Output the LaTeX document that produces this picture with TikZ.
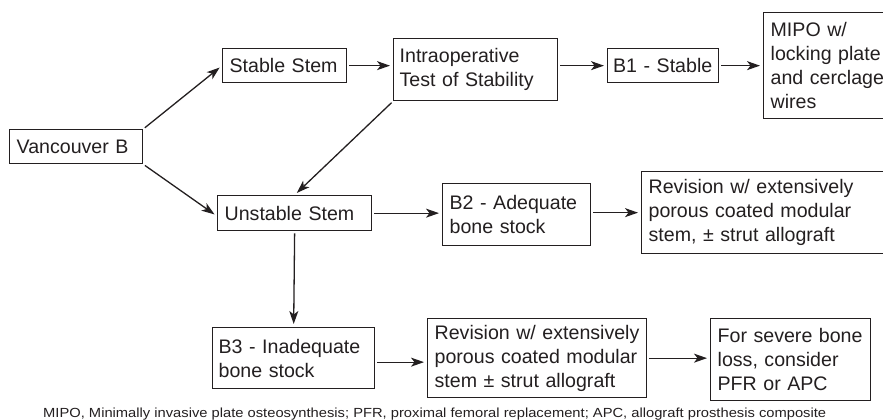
\documentclass[tikz,border=0pt]{standalone}
\usepackage{fontspec}
\setmainfont{Liberation Sans}
\usepackage{graphicx}
\usetikzlibrary{arrows.meta}
\definecolor{ink}{HTML}{231F20}
\hyphenpenalty=10000
\begin{document}
\begin{tikzpicture}[x=1pt,y=-1pt,
  box/.style={draw=ink, line width=1.3pt, anchor=north west, align=left,
    inner xsep=7pt, inner ysep=0pt, text=ink,
    font=\fontsize{19.6}{24}\selectfont},
  arr/.style={-{Stealth[length=13pt,width=9pt,inset=3.5pt]}, line width=1.3pt,
    draw=ink, shorten <=2pt, shorten >=3pt}]
\useasboundingbox (0,0) rectangle (883,420);
\clip (0,0) rectangle (883,420);
% boxes
\node[box, text width=119pt, minimum height=34pt] (V)  at (9,129)   {Vancouver B};
\node[box, text width=110pt, minimum height=34pt] (SS) at (222,48)  {Stable Stem};
\node[box, text width=152pt, minimum height=62pt, inner xsep=6pt] (IT) at (393,38) {Intraoperative\\Test of Stability};
\node[box, text width=100pt, minimum height=34pt, inner xsep=5.5pt] (B1) at (607,48)  {B1 - Stable};
\node[box, text width=121pt, minimum height=106pt] (MI) at (763,12) {MIPO w/\\locking plate\\and cerclage\\wires};
\node[box, text width=140pt, minimum height=35pt] (US) at (217,195) {Unstable Stem};
\node[box, text width=134pt, minimum height=62pt] (B2) at (442,183) {B2 - Adequate\\bone stock};
\node[box, text width=241pt, minimum height=82pt] (R2) at (641,171) {Revision w/ extensively\\porous coated modular\\stem, \textpm{} strut allograft};
\node[box, text width=150pt, minimum height=61pt, inner xsep=6pt] (B3) at (212,327) {B3 - Inadequate\\bone stock};
\node[box, text width=205pt, minimum height=79pt] (R3) at (427,318) {Revision w/ extensively\\porous coated modular\\stem \textpm{} strut allograft};
\node[box, text width=146pt, minimum height=82pt] (FS) at (710,318) {For severe bone\\loss, consider\\PFR or APC};
% connectors
\draw[arr] (V.north east) -- (SS.west);
\draw[arr] (V.south east) -- ([yshift=-3pt]US.west);
\draw[arr] (SS.east) -- (SS.east -| IT.west);
\draw[arr] (IT.south west) -- (US.north);
\draw[arr] (B1.west -| IT.east) -- (B1.west);
\draw[arr] (B1.east) -- (B1.east -| MI.west);
\draw[arr] (US.east) -- (US.east -| B2.west);
\draw[arr] (R2.west -| B2.east) -- (R2.west);
\draw[arr] (US.south) -- (B3.north);
\draw[arr] ([yshift=-4pt]B3.east) -- ([yshift=-4pt]B3.east -| R3.west);
\draw[arr] (R3.east) -- (R3.east -| FS.west);
% footnote
\node[anchor=base west, inner sep=0pt, text=ink, font=\fontsize{13.2}{15}\selectfont] (fn) at (43,417)
  {\resizebox{783pt}{\height}{MIPO, Minimally invasive plate osteosynthesis; PFR, proximal femoral replacement; APC, allograft prosthesis composite}};
\end{tikzpicture}
\end{document}
